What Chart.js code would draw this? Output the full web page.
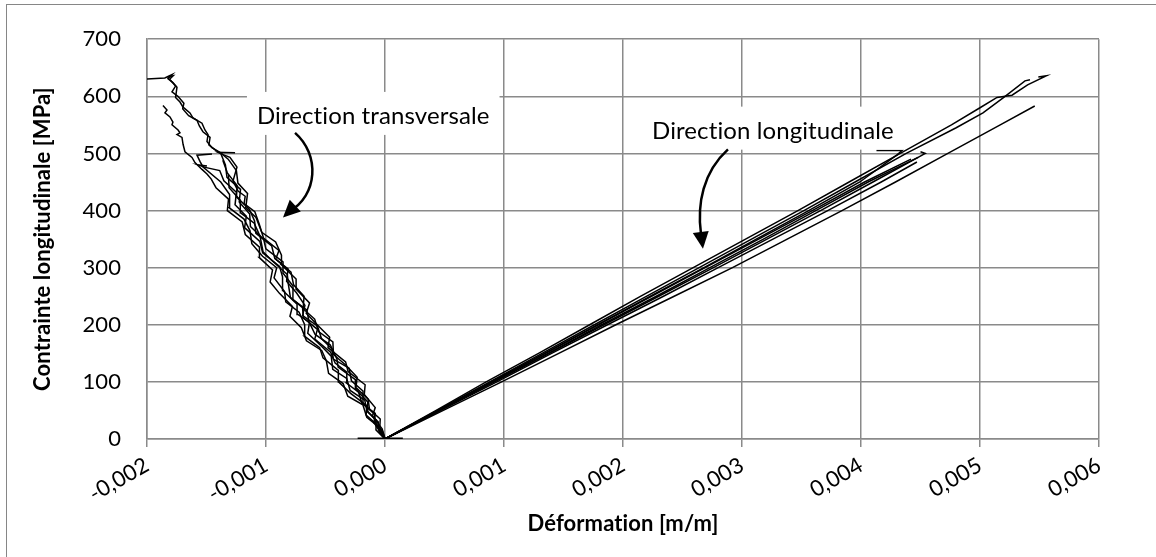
<!DOCTYPE html>
<html lang="fr">
<head>
<meta charset="UTF-8">
<title>Contrainte - déformation</title>
<style>
  html, body { margin: 0; padding: 0; background: #fff; }
  #cadre { width: 1156px; height: 557px; }
</style>
</head>
<body>
<div id="cadre"><canvas id="graphique" width="1156" height="557"></canvas></div>

<script src="https://cdn.jsdelivr.net/npm/chart.js"></script>
<script>
// Déformations en µm/m, contraintes en MPa

// Direction transversale
const t1Stress = [0,18,40,55,78,95,118,135,160,178,196,220,238,262,280,305,322,345,362,388,405,430,448,470,490,502,510,521,533,541,553,562,571,581,590,598,616,624,631,638,632,630];
const t1Strain = [0,-24,-106,-82,-174,-167,-310,-331,-479,-465,-551,-662,-634,-744,-747,-871,-870,-919,-1036,-1084,-1170,-1155,-1236,-1249,-1318,-1387,-1454,-1496,-1487,-1513,-1538,-1613,-1639,-1697,-1723,-1760,-1748,-1782,-1824,-1790,-1850,-2010];

const t2Stress = [0,12,30,48,65,88,104,126,140,165,183,205,226,244,268,290,310,333,350,372,394,415,437,458,480,500,505,515,528,538,548,558,566,578,588,600,608,618,630,636,634];
const t2Strain = [0,-49,-57,-150,-145,-249,-249,-394,-404,-461,-587,-638,-658,-774,-773,-856,-857,-1001,-1020,-1131,-1137,-1225,-1214,-1328,-1341,-1380,-1420,-1480,-1470,-1530,-1560,-1580,-1650,-1700,-1690,-1740,-1790,-1760,-1810,-1780,-1830];

const t3Stress = [0,20,38,60,75,97,115,137,155,172,195,215,232,255,275,296,318,336,358,380,400,420,440,455,464,472,484,493,503,516,528,533,536,541,550,555,564,571,576,584];
const t3Strain = [0,-45,-153,-186,-313,-352,-474,-493,-532,-660,-703,-799,-778,-887,-965,-945,-1058,-1055,-1174,-1200,-1325,-1315,-1420,-1460,-1496,-1538,-1597,-1622,-1681,-1697,-1706,-1748,-1723,-1739,-1790,-1782,-1807,-1849,-1832,-1866];

const t4Stress = [0,15,35,52,70,90,108,130,148,170,188,210,228,250,270,292,315,330,352,375,398,412,425,434,452,476,493,498,502,501];
const t4Strain = [0,-45,-40,-130,-142,-244,-234,-333,-433,-438,-559,-591,-688,-680,-768,-790,-918,-891,-1021,-1055,-1094,-1184,-1175,-1235,-1277,-1244,-1303,-1361,-1403,-1260];

const t5Stress = [0,22,42,58,80,100,120,142,160,180,200,222,240,258,282,300,320,342,365,385,405,428,450,476,486,497,499];
const t5Strain = [0,-50,-159,-151,-289,-390,-392,-521,-549,-677,-675,-722,-834,-844,-932,-910,-1029,-1119,-1135,-1185,-1310,-1306,-1380,-1529,-1555,-1580,-1454];

const t6Stress = [0,16,33,50,68,85,106,122,145,162,185,204,218,236,260,284,302,326,346,370,390,410,432,452,470,476,480,478];
const t6Strain = [0,-76,-74,-153,-170,-293,-322,-439,-452,-531,-649,-635,-732,-739,-859,-861,-886,-1028,-1052,-1180,-1165,-1260,-1249,-1354,-1389,-1520,-1571,-1496];

const t7Stress = [0,14,28,45,62,82,98,117,133,152,175,192,212,230,248,272,288,312,328,355,378,396,418,440,462];
const t7Strain = [0,-21,-93,-82,-193,-222,-324,-321,-419,-457,-590,-568,-686,-693,-795,-813,-821,-948,-1025,-1050,-1099,-1213,-1216,-1310,-1316];

const t8Stress = [0,24,44,62,84,102,124,140,158,176,198,216,234,256,276,298,316,338,360,382,402,424,444,466,488];
const t8Strain = [0,-79,-89,-186,-185,-282,-302,-434,-447,-534,-568,-692,-673,-744,-827,-815,-926,-952,-1085,-1096,-1139,-1248,-1243,-1325,-1363];

// Direction longitudinale
const l1Stress = [0,50,100,150,200,250,300,350,400,450,500,550,580,598,602,620,636,634];
const l1Strain = [0,430,850,1290,1720,2150,2590,3030,3470,3900,4330,4760,5000,5143,5269,5400,5560,5490];

const l2Stress = [0,50,100,150,200,250,300,350,400,450,500,545,571,598,627,629];
const l2Strain = [0,440,880,1320,1760,2200,2640,3080,3520,3950,4380,4800,5025,5200,5378,5420];

const l3Stress = [0,50,100,150,200,250,300,350,400,450,500,550,583];
const l3Strain = [0,490,980,1460,1940,2430,2920,3380,3840,4290,4730,5170,5460];

const l4Stress = [0,50,100,150,200,250,300,350,400,450,497,505,505];
const l4Strain = [0,450,900,1350,1790,2230,2680,3120,3560,3990,4300,4345,4130];

const l5Stress = [0,50,100,150,200,250,300,350,400,450,493,500,503];
const l5Strain = [0,460,920,1380,1840,2300,2760,3210,3660,4100,4480,4540,4500];

const l6Stress = [0,50,100,150,200,250,300,350,400,450,493];
const l6Strain = [0,455,910,1370,1820,2280,2730,3180,3620,4060,4480];

const l7Stress = [0,50,100,150,200,250,300,350,400,450,490];
const l7Strain = [0,445,890,1340,1790,2240,2690,3140,3590,4030,4420];

const l8Stress = [0,50,100,150,200,250,300,350,400,450,485];
const l8Strain = [0,470,940,1400,1870,2340,2800,3260,3720,4170,4470];

// Mise en charge (points à contrainte nulle)
const zeroStress = [0, 0];
const zeroStrain = [-230, 150];

const xTicks = [-0.002, -0.001, 0, 0.001, 0.002, 0.003, 0.004, 0.005, 0.006];

function serie(strain, stress, width) {
    return {
        data: strain.map((e, i) => ({ x: e / 1e6, y: stress[i] })),
        showLine: true,
        borderColor: '#000',
        borderWidth: width || 1.5,
        pointRadius: 0,
        fill: false
    };
}

const datasets = [
    serie(t1Strain, t1Stress), serie(t2Strain, t2Stress), serie(t3Strain, t3Stress),
    serie(t4Strain, t4Stress), serie(t5Strain, t5Stress), serie(t6Strain, t6Stress),
    serie(t7Strain, t7Stress), serie(t8Strain, t8Stress),
    serie(l1Strain, l1Stress), serie(l2Strain, l2Stress), serie(l3Strain, l3Stress),
    serie(l4Strain, l4Stress), serie(l5Strain, l5Stress), serie(l6Strain, l6Stress),
    serie(l7Strain, l7Stress), serie(l8Strain, l8Stress),
    serie(zeroStrain, zeroStress, 3)
];

// étiquettes et flèches (en coordonnées du graphique)
const etiquettes = [
    { text: 'Direction transversale', x: -0.001076, y: 551.7 },
    { text: 'Direction longitudinale', x: 0.002244, y: 525.9 }
];
const fleches = [
    { p0: [-0.000756, 536], c1: [-0.000546, 498], c2: [-0.000563, 426], p3: [-0.000807, 398], tip: [-0.000857, 388] },
    { p0: [0.002882, 507], c1: [0.002672, 467], c2: [0.002622, 412], p3: [0.002655, 360], tip: [0.002672, 333] }
];

const fond = {
    id: 'fond',
    beforeDraw(chart) {
        const ctx = chart.ctx;
        ctx.save();
        ctx.fillStyle = '#fff';
        ctx.fillRect(0, 0, chart.width, chart.height);
        ctx.strokeStyle = '#868686';
        ctx.lineWidth = 1;
        ctx.strokeRect(6.5, 4.5, 1200, 600);
        ctx.restore();
        // pas de ligatures (ti) dans les textes
        ctx.letterSpacing = '0.1px';
    }
};

const annotations = {
    id: 'annotations',
    afterDatasetsDraw(chart) {
        const ctx = chart.ctx;
        const sx = chart.scales.x, sy = chart.scales.y;
        const px = p => [sx.getPixelForValue(p[0]), sy.getPixelForValue(p[1])];
        ctx.save();
        ctx.font = '24px Lato';
        ctx.letterSpacing = '0.1px';
        ctx.textBaseline = 'alphabetic';
        ctx.textAlign = 'left';
        etiquettes.forEach(e => {
            const x = sx.getPixelForValue(e.x), y = sy.getPixelForValue(e.y);
            const w = ctx.measureText(e.text).width;
            ctx.fillStyle = '#fff';
            ctx.fillRect(x - 10, y - 32, w + 20, 43);
            ctx.fillStyle = '#000';
            ctx.fillText(e.text, x, y);
        });
        ctx.strokeStyle = '#000';
        ctx.fillStyle = '#000';
        ctx.lineWidth = 2.5;
        fleches.forEach(f => {
            const a = px(f.p0), b = px(f.c1), c = px(f.c2), d = px(f.p3), t = px(f.tip);
            ctx.beginPath();
            ctx.moveTo(a[0], a[1]);
            ctx.bezierCurveTo(b[0], b[1], c[0], c[1], d[0], d[1]);
            ctx.stroke();
            const ang = Math.atan2(t[1] - d[1], t[0] - d[0]);
            const len = 17, half = 8;
            const bx = t[0] - len * Math.cos(ang), by = t[1] - len * Math.sin(ang);
            ctx.beginPath();
            ctx.moveTo(t[0], t[1]);
            ctx.lineTo(bx + half * Math.sin(ang), by - half * Math.cos(ang));
            ctx.lineTo(bx - half * Math.sin(ang), by + half * Math.cos(ang));
            ctx.closePath();
            ctx.fill();
        });
        ctx.restore();
    }
};

const grille = '#8a8a8a';

new Chart(document.getElementById('graphique').getContext('2d'), {
    type: 'scatter',
    data: { datasets: datasets },
    options: {
        responsive: false,
        animation: false,
        devicePixelRatio: 1,
        layout: { padding: { left: 0, right: 57, top: 33, bottom: 0 } },
        plugins: { legend: { display: false }, tooltip: { enabled: false } },
        scales: {
            x: {
                type: 'linear',
                min: -0.002,
                max: 0.006,
                afterFit: s => { s.height = 118; },
                afterBuildTicks: s => { s.ticks = xTicks.map(v => ({ value: v })); },
                ticks: {
                    autoSkip: false,
                    minRotation: 30,
                    maxRotation: 30,
                    padding: 5,
                    color: '#000',
                    font: { family: 'Lato', size: 22 },
                    callback: v => (Math.abs(v) < 1e-9 ? 0 : v).toFixed(3).replace('.', ',')
                },
                grid: { color: grille, lineWidth: 1.5, tickLength: 8 },
                border: { color: grille, width: 1.5 },
                title: {
                    display: true,
                    text: 'Déformation [m/m]',
                    color: '#000',
                    font: { family: 'Lato', size: 22, weight: 'bold', lineHeight: 1.2 },
                    padding: { top: 0, bottom: 20 }
                }
            },
            y: {
                min: 0,
                max: 700,
                afterFit: s => { s.width = 147; },
                ticks: {
                    stepSize: 100,
                    padding: 26,
                    color: '#000',
                    font: { family: 'Lato', size: 22 }
                },
                grid: { color: grille, lineWidth: 1.5, drawTicks: false },
                border: { color: grille, width: 1.5 },
                title: {
                    display: true,
                    text: 'Contrainte longitudinale [MPa]',
                    color: '#000',
                    font: { family: 'Lato', size: 22, weight: 'bold', lineHeight: 1.2 },
                    padding: { top: 30, bottom: 0 }
                }
            }
        }
    },
    plugins: [fond, annotations]
});
</script>
</body>
</html>
